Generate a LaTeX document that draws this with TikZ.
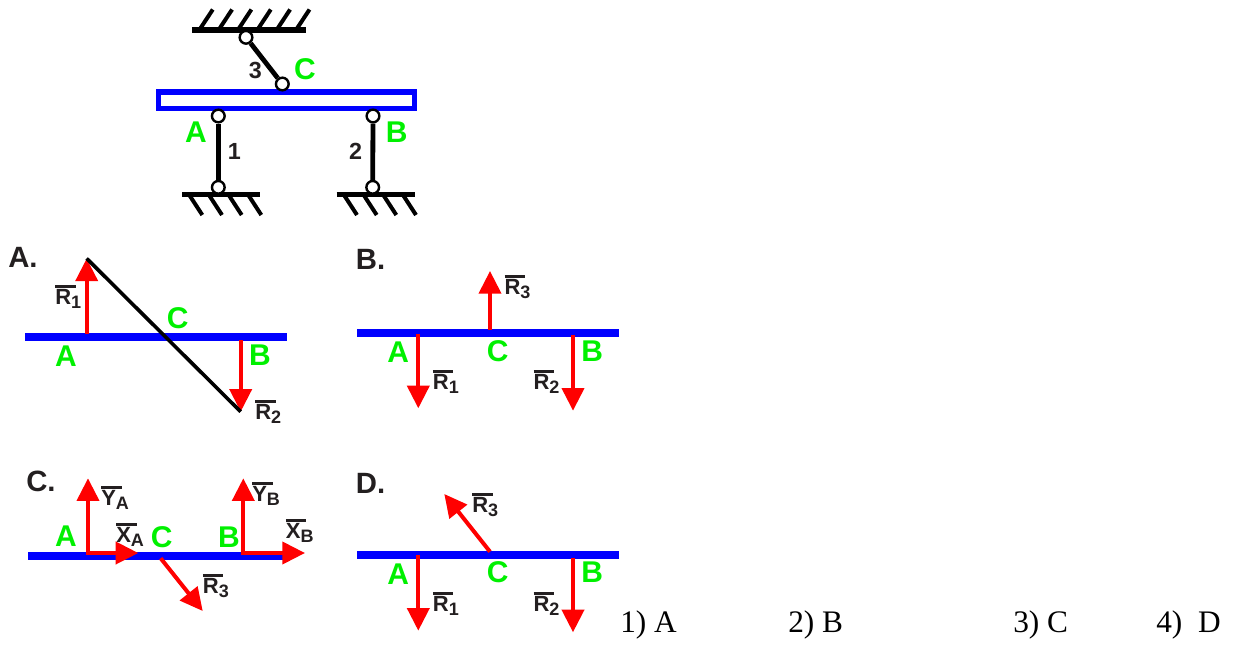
\documentclass[tikz,border=0pt]{standalone}
\usepackage{fontspec}
\setmainfont{Liberation Sans}
\newfontfamily\answerfont{Liberation Serif}
\usetikzlibrary{arrows.meta}
\definecolor{inkblack}{HTML}{231F20}
\definecolor{pointgreen}{HTML}{00F000}
\newcommand{\forcename}[2]{\makebox[0pt][l]{\rule[12pt]{0.92em}{2.3pt}}#1\raisebox{-3pt}{\fontsize{13.5}{13.5}\selectfont #2}}
\tikzset{
  ground/.style={line width=4pt,black},
  hatch/.style={line width=3pt,black},
  rod/.style={line width=3.6pt,black},
  hinge/.style={circle,draw=black,fill=white,line width=1.8pt,minimum size=9.5pt,inner sep=0pt},
  beam/.style={line width=6pt,blue},
  force/.style={line width=3pt,red,-{Triangle[length=17pt,width=16.5pt]}},
  point/.style={text=pointgreen,font=\fontsize{22.5}{22.5}\selectfont\bfseries,inner sep=0pt},
  rodnum/.style={text=inkblack,font=\fontsize{17.5}{17.5}\selectfont\bfseries,inner sep=0pt},
  vectorname/.style={anchor=base west,text=inkblack,font=\fontsize{16.5}{16.5}\selectfont\bfseries,inner sep=0pt},
  panel/.style={anchor=west,text=inkblack,font=\fontsize{22}{22}\selectfont\bfseries,inner sep=0pt},
  answer/.style={anchor=base west,text=black,font=\answerfont\fontsize{23.5}{23.5}\selectfont,inner sep=0pt}
}
\begin{document}
\begin{tikzpicture}[x=0.75pt,y=-0.75pt]
\useasboundingbox (0,0) rectangle (1240,646);

% scheme
\draw [ground] (192,30) -- (306,30);
\foreach \x in {199.3,218.6,237.9,257.3,276.6,296}
  \draw [hatch] (\x,30) -- (\x+13.5,9.5);
\draw [ground] (182,194.3) -- (260,194.3);
\foreach \x in {189.3,209,228.7,248.3}
  \draw [hatch] (\x,195) -- (\x+13,215);
\draw [ground] (336.7,194.3) -- (415,194.3);
\foreach \x in {344,363.7,383.3,403}
  \draw [hatch] (\x,195) -- (\x+13,215);
\draw [blue,line width=3.8pt] (158.3,92) rectangle (414.7,108.6);

\node [hinge] (top) at (246,37.3) {};
\node [hinge] (hingeC) at (282.3,84) {};
\node [hinge] (hingeA) at (218.3,116) {};
\node [hinge] (baseA) at (218.3,187.3) {};
\node [hinge] (hingeB) at (373,116) {};
\node [hinge] (baseB) at (372.7,187.3) {};
\draw [rod] (top) -- (hingeC);
\draw [rod] (hingeA) -- (baseA);
\draw [rod] (hingeB) -- (baseB);

\node [point] (labC) at (305,69.3) {C};
\node [point] (labA) at (196,132.3) {A};
\node [point] (labB) at (396.7,132.3) {B};
\node [rodnum] (num1) at (234.3,151.7) {1};
\node [rodnum] (num2) at (355.7,151.7) {2};
\node [rodnum] (num3) at (255.3,70.7) {3};

% variant A
\node [panel] (varA) at (8,257) {A.};
\coordinate (aL) at (25,337);
\coordinate (aR) at (287,337);
\coordinate (aA) at (86.7,334);
\coordinate (aTop) at (86.7,258.5);
\coordinate (aB) at (240.7,340);
\coordinate (aBot) at (240.7,411.7);
\draw [beam] (aL) -- (aR);
\draw [force] (aA) -- (aTop);
\draw [force] (aB) -- (aBot);
\draw [line width=2.7pt,black] (aTop) -- (aBot);
\node [point] (aLabC) at (177.7,317.7) {C};
\node [point] (aLabA) at (66,356) {A};
\node [point] (aLabB) at (260,355) {B};
\node [vectorname] (aR1) at (55,304) {\forcename{R}{1}};
\node [vectorname] (aR2) at (255,419) {\forcename{R}{2}};

% variant B
\node [panel] (varB) at (355.7,259) {B.};
\coordinate (bL) at (357.3,332.7);
\coordinate (bR) at (619,332.7);
\coordinate (bC) at (490,330);
\coordinate (bTop) at (490,271);
\coordinate (bA) at (418.3,334);
\coordinate (bEndA) at (418.3,408.3);
\coordinate (bB) at (573,335);
\coordinate (bEndB) at (573,410.7);
\draw [beam] (bL) -- (bR);
\draw [force] (bC) -- (bTop);
\draw [force] (bA) -- (bEndA);
\draw [force] (bB) -- (bEndB);
\node [point] (bLabA) at (398.3,351.7) {A};
\node [point] (bLabC) at (497.7,350.7) {C};
\node [point] (bLabB) at (592.3,350.7) {B};
\node [vectorname] (bR3) at (504.3,294) {\forcename{R}{3}};
\node [vectorname] (bR1) at (432.7,389) {\forcename{R}{1}};
\node [vectorname] (bR2) at (533.3,389) {\forcename{R}{2}};

% variant C
\node [panel] (varC) at (26,481.7) {C.};
\coordinate (cL) at (28,556.3);
\coordinate (cR) at (283,556.3);
\coordinate (cA) at (88,553);
\coordinate (cTopA) at (88,478.3);
\coordinate (cEndA) at (138.3,553);
\coordinate (cB) at (243.3,553);
\coordinate (cTopB) at (243.3,478.3);
\coordinate (cEndB) at (305,553);
\coordinate (cC) at (160.7,558.3);
\coordinate (cEndC) at (202.7,611);
\draw [beam] (cL) -- (cR);
\draw [force,line cap=rect] (cA) -- (cTopA);
\draw [force,line cap=rect] (cA) -- (cEndA);
\draw [force,line cap=rect] (cB) -- (cTopB);
\draw [force,line cap=rect] (cB) -- (cEndB);
\draw [force] (cC) -- (cEndC);
\node [point] (cLabA) at (66,536) {A};
\node [point] (cLabC) at (161.7,536.7) {C};
\node [point] (cLabB) at (229,536.7) {B};
\node [vectorname] (cYA) at (101,505) {\forcename{Y}{A}};
\node [vectorname] (cXA) at (116,542) {\forcename{X}{A}};
\node [vectorname] (cYB) at (252,501) {\forcename{Y}{B}};
\node [vectorname] (cXB) at (285.7,538) {\forcename{X}{B}};
\node [vectorname] (cR3) at (202.7,593) {\forcename{R}{3}};

% variant D
\node [panel] (varD) at (355.7,483) {D.};
\coordinate (dL) at (357.3,555);
\coordinate (dR) at (619,555);
\coordinate (dC) at (490,551.7);
\coordinate (dEndC) at (444.3,494);
\coordinate (dA) at (418.3,555);
\coordinate (dEndA) at (418.3,630.7);
\coordinate (dB) at (573,558);
\coordinate (dEndB) at (573,632.3);
\draw [beam] (dL) -- (dR);
\draw [force] (dC) -- (dEndC);
\draw [force] (dA) -- (dEndA);
\draw [force] (dB) -- (dEndB);
\node [point] (dLabA) at (398.3,574.3) {A};
\node [point] (dLabC) at (497.7,571.7) {C};
\node [point] (dLabB) at (592.3,571.7) {B};
\node [vectorname] (dR3) at (472,512) {\forcename{R}{3}};
\node [vectorname] (dR1) at (432.7,611) {\forcename{R}{1}};
\node [vectorname] (dR2) at (533.3,611) {\forcename{R}{2}};

% answers
\node [answer] (ans1) at (620,632) {1) A};
\node [answer] (ans2) at (788,632) {2) B};
\node [answer] (ans3) at (1013,632) {3) C};
\node [answer] (ans4) at (1156,632) {4)\ \ D};
\end{tikzpicture}
\end{document}
